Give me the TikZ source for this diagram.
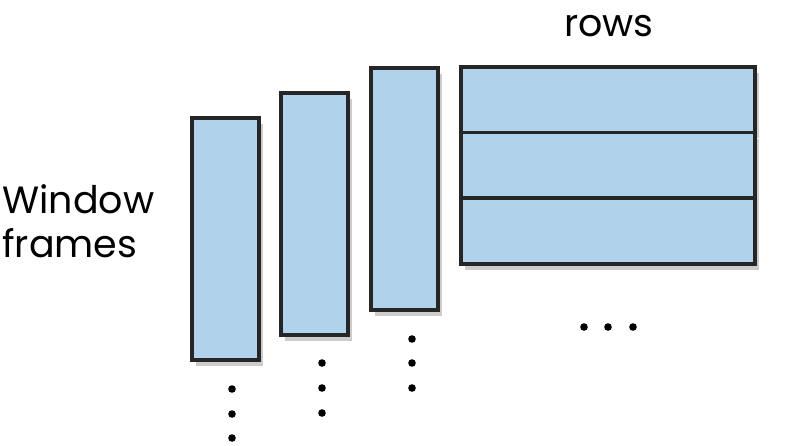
\documentclass[tikz,border=0pt]{standalone}
\usepackage{fontspec}
\setmainfont{Poppins}
\usetikzlibrary{positioning,shadows}
\definecolor{paneblue}{RGB}{176,210,234}
\definecolor{inkgray}{RGB}{38,38,38}
\tikzset{
  every picture/.style={font=\fontsize{19}{22}\selectfont},
  pane/.style={draw=inkgray,line width=1.8pt,fill=paneblue,inner sep=0pt,
    drop shadow={opacity=0.4,shadow xshift=2pt,shadow yshift=-3pt}},
  column/.style={pane,minimum width=33.5pt,minimum height=121pt},
  rowbox/.style={pane,minimum width=147pt,minimum height=32.8pt},
  dot/.style={circle,fill=black,inner sep=0pt,minimum size=3.8pt},
}
\begin{document}
\begin{tikzpicture}[x=0.5pt,y=-0.5pt]
  \useasboundingbox (0,0) rectangle (786,445);
  \node[column] (win1) at (225.5,239) {};
  \node[column] (win2) at (314.5,214) {};
  \node[column] (win3) at (404.5,189) {};
  \node[rowbox] (row1) at (608,99.5) {};
  \node[rowbox] (row2) at (608,165.3) {};
  \node[rowbox] (row3) at (608,231) {};
  \node[anchor=base] (rowslbl) at (609,36) {rows};
  \node[anchor=west,align=left,inner sep=0pt] (winlbl) at (2,221) {Window\\frames};
  % continuation dots
  \foreach \y [count=\i] in {389,414,438}{
    \node[dot] (dA\i) at (232,\y) {};
  }
  \foreach \y [count=\i] in {363,388,413}{
    \node[dot] (dB\i) at (322,\y) {};
  }
  \foreach \y [count=\i] in {339,363,388}{
    \node[dot] (dC\i) at (412,\y) {};
  }
  \foreach \x [count=\i] in {584,608,633}{
    \node[dot] (dR\i) at (\x,327) {};
  }
\end{tikzpicture}
\end{document}
